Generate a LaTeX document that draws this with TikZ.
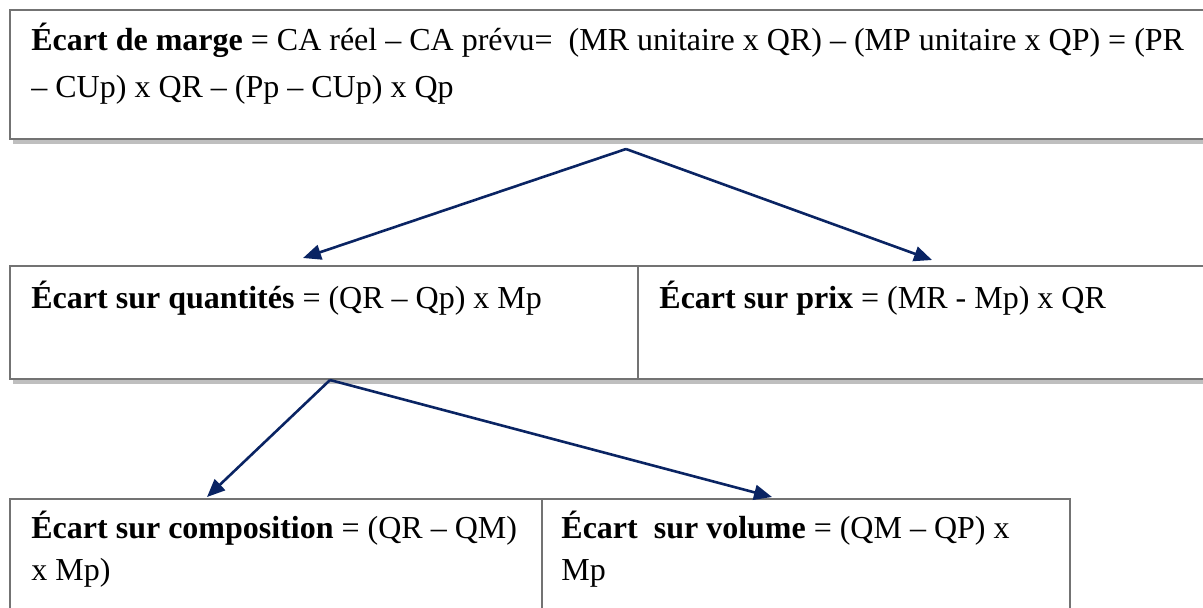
\documentclass[tikz,border=0pt]{standalone}
\usepackage{fontspec}
\setmainfont{Liberation Serif}
\usetikzlibrary{arrows.meta,shadows}
\definecolor{navy}{HTML}{0A2463}
\definecolor{frame}{HTML}{737373}
\begin{document}
\begin{tikzpicture}[x=0.5pt, y=-0.5pt, >={Triangle[length=9pt,width=7.5pt]},
    box/.style={draw=frame, line width=1.2pt, fill=white, anchor=north west, inner sep=0pt},
    shadbox/.style={box, drop shadow={shadow xshift=1.5pt, shadow yshift=-2.5pt, fill=black!25, opacity=1}},
    txt/.style={anchor=base west, align=left, inner sep=0pt, font=\fontsize{16}{23.5}\selectfont},
    link/.style={->, draw=navy, line width=1.3pt}]
  \useasboundingbox (0,0) rectangle (1203,607);
  % boxes
  \node[shadbox, minimum width=603pt, minimum height=64.5pt] (marge) at (9,9) {};
  \node[shadbox, minimum width=314pt, minimum height=56.5pt] (quant) at (9,265) {};
  \node[shadbox, minimum width=289pt, minimum height=56.5pt] (prix) at (637,265) {};
  \node[box, minimum width=266pt, minimum height=61pt] (compo) at (9,498) {};
  \node[box, minimum width=264pt, minimum height=61pt] (volume) at (541,498) {};
  % texts (base = last line)
  \node[txt] (margetxt) at (31,97) {\textbf{Écart de marge} = CA réel – CA prévu=\ \ (MR unitaire x QR) – (MP unitaire x QP) = (PR\\– CUp) x QR – (Pp – CUp) x Qp};
  \node[txt] (quanttxt) at (31,308) {\textbf{Écart sur quantités} = (QR – Qp) x Mp};
  \node[txt] (prixtxt) at (659,308) {\textbf{Écart sur prix} = (MR - Mp) x QR};
  \node[txt, font=\fontsize{16}{21}\selectfont] (compotxt) at (31,580) {\textbf{Écart sur composition} = (QR – QM)\\x Mp)};
  \node[txt, font=\fontsize{16}{21}\selectfont] (volumetxt) at (561,580) {\textbf{Écart\ \ sur volume} = (QM – QP) x\\Mp};
  % connectors
  \coordinate (margeout) at (626,149);
  \coordinate (quantin) at (303,258);
  \coordinate (prixin) at (932,260);
  \coordinate (quantout) at (330,380);
  \coordinate (compoin) at (207,497);
  \coordinate (volumein) at (772,497);
  \draw[link] (margeout) -- (quantin);
  \draw[link] (margeout) -- (prixin);
  \draw[link] (quantout) -- (compoin);
  \draw[link] (quantout) -- (volumein);
\end{tikzpicture}
\end{document}
